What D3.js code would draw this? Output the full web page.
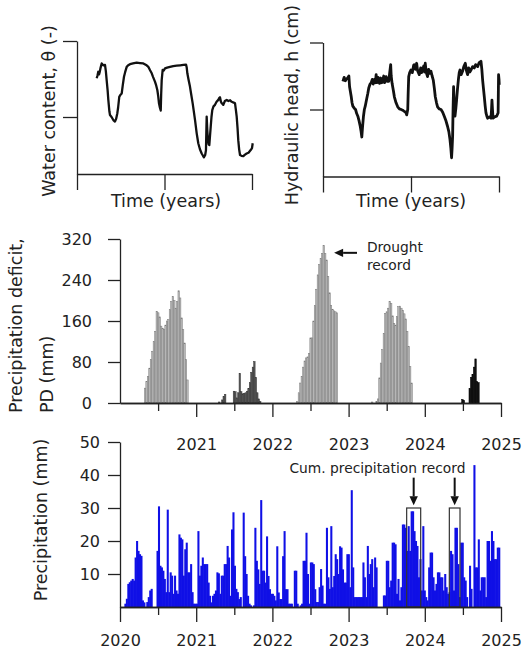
<!DOCTYPE html>
<html>
<head>
<meta charset="utf-8">
<script src="https://cdn.jsdelivr.net/npm/d3@7"></script>
<style>
  body { margin: 0; background: #fff; }
  svg { display: block; font-family: "DejaVu Sans", Verdana, sans-serif; }
  .axis path, .axis line { stroke: #222; stroke-width: 1.3; }
  .axis text { fill: #222; font-size: 16px; font-family: "DejaVu Sans", Verdana, sans-serif; }
  .title { fill: #222; font-size: 17.5px; }
  .note { fill: #222; font-size: 13.8px; }
</style>
</head>
<body>
<div id="chart"></div>
<script>
// top left: water content (time in years since start of record)
const wcTime = [0.225, 0.235, 0.243, 0.252, 0.259, 0.27, 0.282, 0.30, 0.32, 0.33, 0.339, 0.35, 0.358, 0.37, 0.377, 0.395, 0.415, 0.434, 0.447, 0.461, 0.47, 0.483, 0.495, 0.511, 0.524, 0.537, 0.55, 0.568, 0.585, 0.606, 0.64, 0.682, 0.72, 0.758, 0.79, 0.815, 0.835, 0.854, 0.87, 0.891, 0.905, 0.918, 0.928, 0.937, 0.947, 0.957, 0.962, 0.968, 0.979, 0.99, 1.006, 1.03, 1.063, 1.10, 1.139, 1.18, 1.215, 1.246, 1.254, 1.261, 1.275, 1.291, 1.305, 1.322, 1.335, 1.349, 1.368, 1.386, 1.405, 1.425, 1.44, 1.451, 1.465, 1.474, 1.478, 1.482, 1.489, 1.497, 1.505, 1.512, 1.52, 1.528, 1.537, 1.546, 1.56, 1.577, 1.595, 1.615, 1.625, 1.634, 1.645, 1.655, 1.672, 1.69, 1.711, 1.73, 1.75, 1.768, 1.79, 1.806, 1.815, 1.825, 1.835, 1.843, 1.853, 1.863, 1.88, 1.901, 1.92, 1.939, 1.96, 1.985, 2.0, 2.008]
const wcValue = [0.302, 0.31, 0.319, 0.312, 0.318, 0.33, 0.341, 0.336, 0.337, 0.32, 0.297, 0.27, 0.245, 0.215, 0.205, 0.2, 0.192, 0.188, 0.195, 0.21, 0.225, 0.253, 0.258, 0.262, 0.285, 0.306, 0.318, 0.332, 0.336, 0.339, 0.341, 0.343, 0.342, 0.341, 0.337, 0.332, 0.323, 0.315, 0.305, 0.293, 0.283, 0.271, 0.255, 0.236, 0.225, 0.217, 0.26, 0.297, 0.324, 0.322, 0.328, 0.33, 0.332, 0.334, 0.335, 0.336, 0.337, 0.338, 0.33, 0.315, 0.298, 0.28, 0.26, 0.236, 0.215, 0.192, 0.157, 0.131, 0.115, 0.104, 0.098, 0.094, 0.1, 0.113, 0.16, 0.201, 0.165, 0.139, 0.128, 0.126, 0.15, 0.174, 0.2, 0.218, 0.228, 0.232, 0.24, 0.245, 0.25, 0.252, 0.24, 0.236, 0.232, 0.242, 0.245, 0.242, 0.244, 0.24, 0.238, 0.236, 0.22, 0.201, 0.17, 0.139, 0.115, 0.1, 0.098, 0.097, 0.101, 0.104, 0.106, 0.113, 0.118, 0.131]

// top right: hydraulic head (cm)
const headTime = [0.226, 0.24, 0.255, 0.265, 0.28, 0.294, 0.302, 0.321, 0.33, 0.339, 0.355, 0.37, 0.383, 0.396, 0.41, 0.423, 0.433, 0.441, 0.45, 0.46, 0.47, 0.48, 0.495, 0.509, 0.52, 0.535, 0.548, 0.56, 0.57, 0.585, 0.595, 0.604, 0.614, 0.625, 0.642, 0.655, 0.668, 0.679, 0.69, 0.70, 0.717, 0.73, 0.74, 0.747, 0.758, 0.769, 0.775, 0.785, 0.80, 0.811, 0.83, 0.849, 0.868, 0.888, 0.905, 0.925, 0.94, 0.951, 0.957, 0.963, 0.968, 0.974, 0.985, 1.0, 1.015, 1.03, 1.038, 1.05, 1.064, 1.075, 1.094, 1.11, 1.12, 1.132, 1.145, 1.155, 1.162, 1.172, 1.188, 1.2, 1.215, 1.227, 1.24, 1.253, 1.265, 1.276, 1.29, 1.302, 1.32, 1.341, 1.36, 1.378, 1.395, 1.415, 1.43, 1.443, 1.453, 1.461, 1.467, 1.473, 1.478, 1.484, 1.49, 1.5, 1.51, 1.518, 1.528, 1.538, 1.548, 1.557, 1.57, 1.586, 1.6, 1.617, 1.63, 1.643, 1.655, 1.668, 1.682, 1.70, 1.719, 1.735, 1.757, 1.775, 1.795, 1.805, 1.814, 1.823, 1.833, 1.843, 1.852, 1.862, 1.871, 1.89, 1.909, 1.915, 1.92, 1.926, 1.932, 1.95, 1.973, 1.99, 1.995, 2.0, 2.003]
const headValue = [-58, -52, -57, -55, -53, -50, -66, -81, -90, -95, -98, -100, -106, -110, -117, -125, -133, -141, -125, -110, -100, -95, -85, -76, -68, -62, -60, -55, -62, -55, -60, -48, -60, -52, -61, -53, -60, -56, -50, -60, -51, -58, -53, -58, -45, -33, -50, -61, -72, -81, -90, -96, -99, -100, -101, -103, -104, -108, -104, -100, -75, -51, -45, -41, -45, -34, -33, -40, -31, -42, -48, -38, -45, -41, -35, -44, -31, -44, -51, -40, -46, -43, -50, -56, -68, -81, -90, -96, -99, -100, -104, -110, -116, -125, -133, -145, -158, -172, -158, -140, -100, -66, -90, -110, -98, -86, -70, -56, -45, -41, -48, -43, -36, -31, -42, -48, -38, -44, -41, -36, -38, -33, -36, -30, -28, -40, -56, -68, -81, -95, -105, -110, -113, -111, -113, -100, -86, -100, -113, -111, -110, -105, -48, -55, -63]

// middle: weekly precipitation deficit (mm), one run per year
const pdStart = [2020.32, 2021.294, 2022.319, 2023.30, 2024.484]
const pd2020 = [29, 42, 52, 68, 85, 101, 120, 140, 179, 176, 168, 150, 146, 143, 152, 160, 163, 182, 198, 208, 200, 185, 198, 219, 205, 166, 143, 117, 85, 45]
const pd2021 = [2, 0, 6, 13, 17, 0, 0, 0, 0, 0, 23, 22, 10, 20, 58, 22, 18, 19, 20, 23, 28, 40, 60, 70, 81, 50, 20, 8, 3]
const pd2022 = [3, 20, 39, 52, 70, 82, 88, 90, 97, 127, 127, 160, 190, 222, 250, 270, 282, 292, 307, 292, 279, 247, 215, 190, 183, 180, 178, 176]
const pd2023 = [2, 0, 0, 3, 8, 49, 78, 104, 136, 175, 178, 185, 198, 194, 170, 155, 152, 169, 188, 189, 185, 181, 174, 164, 140, 110, 71, 39]
const pd2024 = [7, 5, 0, 0, 0, 28, 50, 56, 70, 86, 42, 40]
const pdTicks = [0, 80, 160, 240, 320]

// bottom: weekly precipitation (mm) from 2020
const precipStart = 2020
const precipWeekly = [
  0, 0, 0, 1, 2.5, 7, 7.5, 8, 8.5, 8,
  15, 20, 17, 16, 15.5, 2, 1.4, 0, 1.5, 3,
  5, 5.5, 0, 0, 0, 17, 30.5, 12.5, 12, 11,
  8.5, 4.5, 29.5, 4.5, 10.5, 9.5, 4, 9.5, 5, 4,
  22, 21, 20.5, 9.5, 17.5, 19.5, 10.5, 10.5, 13, 4.5,
  1, 1, 1, 23, 9.5, 12.5, 15, 13, 13, 13,
  7.4, 3.4, 1.4, 3.4, 4, 5, 10.5, 10.2, 4, 9.5,
  9.5, 13, 13, 18.5, 15, 3.4, 23.5, 28.7, 12.5, 5.5,
  4.5, 2.4, 3, 0, 28.6, 15.4, 10, 3.4, 1, 0.5,
  0, 0.5, 24, 14, 11.4, 7, 32.4, 11, 11, 7.4,
  21.4, 9.4, 5.4, 4, 4, 3.4, 2, 18.4, 4.4, 2.4,
  2.4, 15.4, 23, 5.4, 5.4, 1, 1, 1, 0, 11,
  11, 1, 0, 0.5, 1, 14, 14, 22.5, 10, 1,
  13.5, 13.5, 13, 5.4, 1.5, 1.5, 6, 11.5, 6.5, 1,
  1, 24, 9, 5.5, 24.5, 6, 9.4, 16, 14.5, 10,
  18.4, 18, 11.4, 7.4, 7.4, 16, 16, 6, 35.4, 12,
  3, 3, 3, 3, 3, 3, 13.5, 9, 3, 18.5,
  10, 13, 14.5, 6, 15, 12, 0, 0, 0, 0,
  3.5, 3.5, 14, 14, 6, 8, 19.5, 19.5, 19, 4,
  8.5, 2, 6, 25, 25, 24, 17, 24.5, 17, 29,
  29, 23, 20, 18.5, 9, 14.5, 5, 24.5, 5, 3,
  2, 12, 16.5, 16.5, 9, 5, 7, 10.5, 10.5, 9,
  9, 5, 10, 6, 4, 4.5, 17, 16, 5, 24,
  24, 13, 3, 19.5, 19.5, 9, 8, 3, 0, 12.5,
  5.5, 0, 43, 12, 12, 20.5, 5, 9, 9, 9,
  3, 20, 20, 14, 23, 20, 14.5, 14.5, 18, 18
]
const precipTicks = [10, 20, 30, 40, 50]
const yearTicks = [2020, 2021, 2022, 2023, 2024, 2025]
const halfYearTicks = [2020.5, 2021.5, 2022.5, 2023.5, 2024.5]
const recordWindows = [[2023.762, 2023.946], [2024.322, 2024.462]]

const WEEK = 7 / 365.25

const svg = d3.select('#chart')
  .append('svg')
    .attr('width', 525)
    .attr('height', 657)

const drawArrow = (x1, y1, x2, y2) => {
  // shaft plus a filled head at (x2, y2)
  const a = Math.atan2(y2 - y1, x2 - x1)
  const len = 9, half = 4.2
  const bx = x2 - len * Math.cos(a), by = y2 - len * Math.sin(a)
  svg.append('line')
    .attr('x1', x1).attr('y1', y1).attr('x2', bx).attr('y2', by)
    .attr('stroke', '#111').attr('stroke-width', 2)
  svg.append('path')
    .attr('d', `M${x2},${y2}L${bx - half * Math.sin(a)},${by + half * Math.cos(a)}L${bx + half * Math.sin(a)},${by - half * Math.cos(a)}Z`)
    .attr('fill', '#111')
}

// ---------- top left: water content
const wcX = d3.scaleLinear().domain([0, 2]).range([77, 252])
const wcY = d3.scaleLinear().domain([0.05, 0.4]).range([174, 41])

svg.append('g').attr('class', 'axis')
  .attr('transform', 'translate(77,0)')
  .call(d3.axisLeft(wcY).tickValues([0.2, 0.4]).tickSize(14).tickSizeOuter(0).tickFormat(''))
svg.append('g').attr('class', 'axis')
  .attr('transform', 'translate(0,174)')
  .call(d3.axisBottom(wcX).tickValues([0, 1, 2]).tickSize(16).tickSizeOuter(0).tickFormat(''))

svg.append('path')
  .datum(d3.zip(wcTime, wcValue))
  .attr('fill', 'none')
  .attr('stroke', '#111')
  .attr('stroke-width', 2.3)
  .attr('stroke-linejoin', 'round')
  .attr('d', d3.line().x(d => wcX(d[0])).y(d => wcY(d[1])))

svg.append('text').attr('class', 'title')
  .attr('transform', 'translate(55,111) rotate(-90)')
  .attr('text-anchor', 'middle')
  .text('Water content, θ (-)')
svg.append('text').attr('class', 'title')
  .attr('x', 166).attr('y', 207)
  .attr('text-anchor', 'middle')
  .text('Time (years)')

// ---------- top right: hydraulic head
const headX = d3.scaleLinear().domain([0, 2]).range([323, 499])
const headY = d3.scaleLinear().domain([-200, 0]).range([176.5, 42.5])

svg.append('g').attr('class', 'axis')
  .attr('transform', 'translate(323,0)')
  .call(d3.axisLeft(headY).tickValues([-100, 0]).tickSize(13).tickSizeOuter(0).tickFormat(''))
svg.append('g').attr('class', 'axis')
  .attr('transform', 'translate(0,176.5)')
  .call(d3.axisBottom(headX).tickValues([0, 1, 2]).tickSize(16).tickSizeOuter(0).tickFormat(''))

svg.append('path')
  .datum(d3.zip(headTime, headValue))
  .attr('fill', 'none')
  .attr('stroke', '#111')
  .attr('stroke-width', 2.8)
  .attr('stroke-linejoin', 'round')
  .attr('d', d3.line().x(d => headX(d[0])).y(d => headY(d[1])))

svg.append('text').attr('class', 'title')
  .attr('transform', 'translate(298,105) rotate(-90)')
  .attr('text-anchor', 'middle')
  .text('Hydraulic head, h (cm)')
svg.append('text').attr('class', 'title')
  .attr('x', 411).attr('y', 207)
  .attr('text-anchor', 'middle')
  .text('Time (years)')

// ---------- middle: precipitation deficit
const timeX = d3.scaleLinear().domain([2020, 2025]).range([120, 501])
const pdY = d3.scaleLinear().domain([0, 320]).range([403, 239])

const pdRuns = [pd2020, pd2021, pd2022, pd2023, pd2024]
const pdFill = ['#bbbbbb', '#575757', '#bbbbbb', '#bbbbbb', '#111']
const pdStroke = ['#7a7a7a', '#333', '#7a7a7a', '#7a7a7a', '#000']

pdRuns.forEach((run, k) => {
  const bars = run.map((v, i) => ({ t: pdStart[k] + i * WEEK, v }))
  svg.append('g')
    .selectAll('rect')
    .data(bars.filter(d => d.v > 0))
    .join('rect')
      .attr('x', d => timeX(d.t))
      .attr('width', d => timeX(d.t + WEEK) - timeX(d.t))
      .attr('y', d => pdY(d.v))
      .attr('height', d => pdY(0) - pdY(d.v))
      .attr('fill', pdFill[k])
      .attr('stroke', pdStroke[k])
      .attr('stroke-width', 0.5)
})

svg.append('g').attr('class', 'axis')
  .attr('transform', 'translate(120,0)')
  .call(d3.axisLeft(pdY).tickValues(pdTicks).tickSize(12).tickPadding(16).tickSizeOuter(0))
svg.append('g').attr('class', 'axis')
  .attr('transform', 'translate(0,403)')
  .call(d3.axisBottom(timeX).tickValues(halfYearTicks).tickSize(8).tickSizeOuter(0).tickFormat(''))
svg.append('g').attr('class', 'axis')
  .attr('transform', 'translate(0,403)')
  .call(d3.axisBottom(timeX).tickValues(yearTicks.slice(1)).tickSize(14).tickPadding(22).tickSizeOuter(0).tickFormat(d3.format('d')))

svg.append('text').attr('class', 'title')
  .attr('transform', 'translate(22,413) rotate(-90)')
  .text('Precipitation deficit,')
svg.append('text').attr('class', 'title')
  .attr('transform', 'translate(53,413) rotate(-90)')
  .text('PD (mm)')

drawArrow(timeX(2023.11), pdY(293), timeX(2022.81), pdY(293))
svg.append('text').attr('class', 'note')
  .attr('x', timeX(2023.24)).attr('y', pdY(295))
  .text('Drought')
svg.append('text').attr('class', 'note')
  .attr('x', timeX(2023.24)).attr('y', pdY(260))
  .text('record')

// ---------- bottom: precipitation
const precipY = d3.scaleLinear().domain([0, 50]).range([607, 442])
const weeks = precipWeekly.map((v, i) => ({ t: precipStart + i * WEEK, v }))

svg.append('g')
  .selectAll('rect')
  .data(weeks.filter(d => d.v > 0))
  .join('rect')
    .attr('x', d => timeX(d.t))
    .attr('width', d => timeX(d.t + WEEK) - timeX(d.t) + 0.6)
    .attr('y', d => precipY(d.v))
    .attr('height', d => precipY(0) - precipY(d.v))
    .attr('fill', '#1010e6')

svg.append('g')
  .selectAll('rect')
  .data(recordWindows)
  .join('rect')
    .attr('x', d => timeX(d[0]))
    .attr('width', d => timeX(d[1]) - timeX(d[0]))
    .attr('y', precipY(30))
    .attr('height', precipY(0) - precipY(30))
    .attr('fill', 'none')
    .attr('stroke', '#333')
    .attr('stroke-width', 1.2)

svg.append('g').attr('class', 'axis')
  .attr('transform', 'translate(120,0)')
  .call(d3.axisLeft(precipY).tickValues(precipTicks).tickSize(12).tickPadding(8).tickSizeOuter(0))
svg.append('g').attr('class', 'axis')
  .attr('transform', 'translate(0,607)')
  .call(d3.axisBottom(timeX).tickValues(halfYearTicks).tickSize(8).tickSizeOuter(0).tickFormat(''))
svg.append('g').attr('class', 'axis')
  .attr('transform', 'translate(0,607)')
  .call(d3.axisBottom(timeX).tickValues(yearTicks).tickSize(15).tickPadding(13).tickSizeOuter(0).tickFormat(d3.format('d')))

svg.append('text').attr('class', 'title')
  .attr('transform', 'translate(47,520) rotate(-90)')
  .attr('text-anchor', 'middle')
  .text('Precipitation (mm)')

svg.append('text').attr('class', 'note')
  .attr('x', timeX(2023.379)).attr('y', precipY(40.6))
  .attr('text-anchor', 'middle')
  .text('Cum. precipitation record')
recordWindows.forEach(w => {
  const xm = timeX((w[0] + w[1]) / 2)
  drawArrow(xm, precipY(39.2), xm, precipY(30.8))
})
</script>
</body>
</html>
